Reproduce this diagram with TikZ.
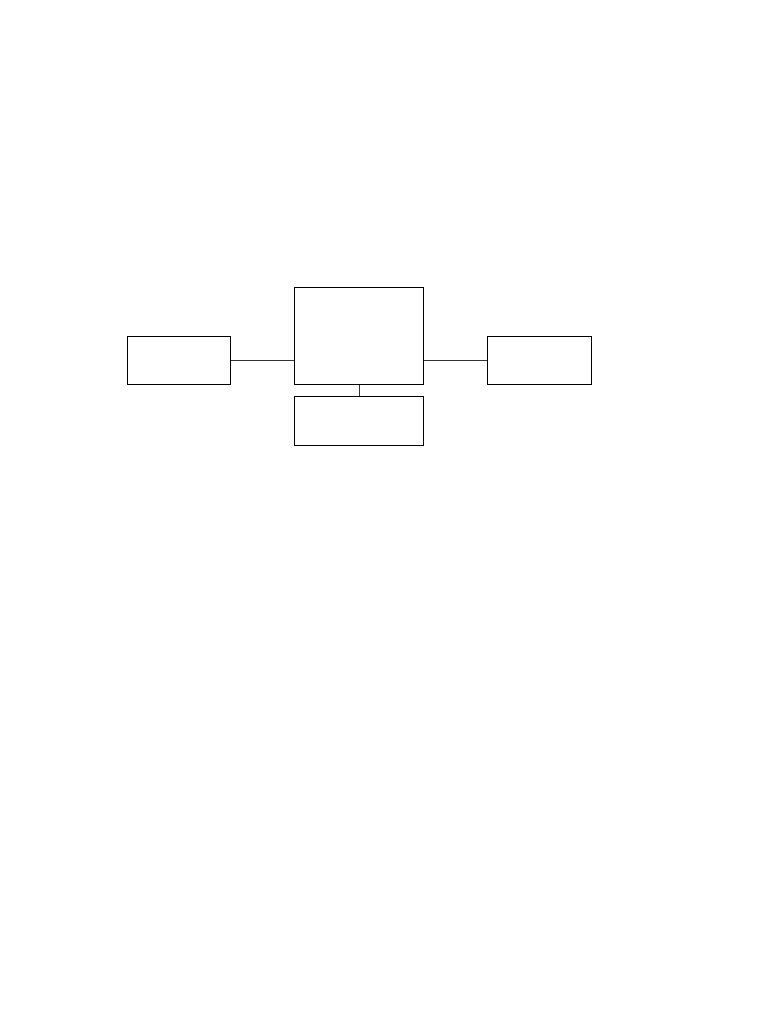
\documentclass[tikz,border=0pt]{standalone}
\begin{document}
\begin{tikzpicture}[x=1pt,y=-1pt,
  boxst/.style={draw=black,line width=1.1pt,fill=white,inner sep=0pt,anchor=north west},
  link/.style={draw=black!80,line width=0.9pt}]
\useasboundingbox (0,0) rectangle (768,1024);
\node[boxst,minimum width=103pt,minimum height=48pt] (left) at (126.5,335.5) {};
\node[boxst,minimum width=129pt,minimum height=97pt] (center) at (294,286.5) {};
\node[boxst,minimum width=104pt,minimum height=48pt] (right) at (487,335.5) {};
\node[boxst,minimum width=129pt,minimum height=48.5pt] (bottom) at (294,396) {};
\draw[link] (left.east |- 0,360) -- (center.west |- 0,360);
\draw[link] (center.east |- 0,360) -- (right.west |- 0,360);
\draw[link] (center.south) -- (bottom.north);
\end{tikzpicture}
\end{document}
